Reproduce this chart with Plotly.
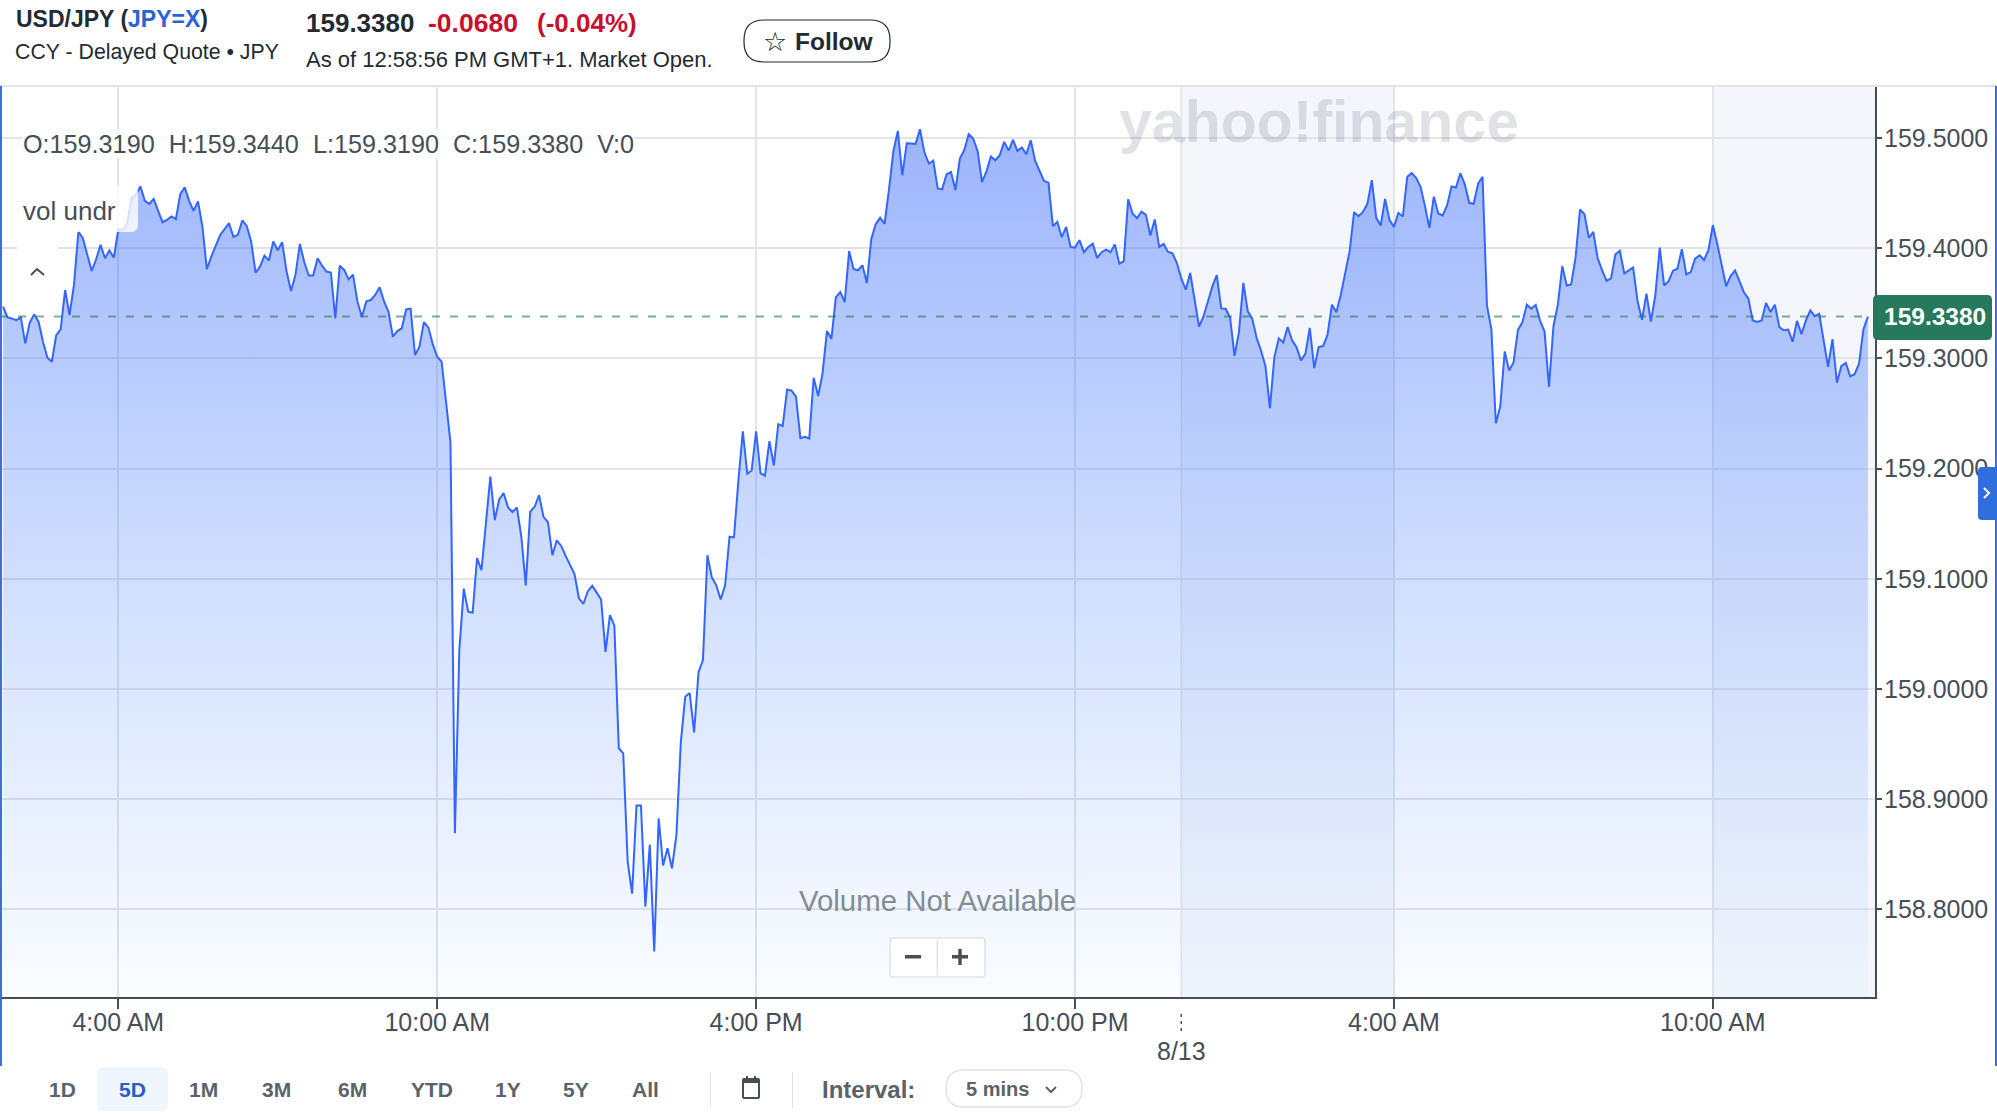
import pandas as pd
import plotly.graph_objects as go

WIDTH = 1997
HEIGHT = 1116

# 5 minute closes, USD/JPY
prices_night = [
    159.3470, 159.3373, 159.3361, 159.3348, 159.3373, 159.3136, 159.3324, 159.3400, 159.3333, 159.3152,
    159.3006, 159.2970, 159.3212, 159.3264, 159.3621, 159.3394, 159.3667, 159.4152, 159.4091, 159.3939,
    159.3794, 159.3900, 159.4030, 159.3909, 159.3979, 159.3915, 159.4167, 159.4167, 159.4221, 159.4455,
    159.4485, 159.4561, 159.4430, 159.4403, 159.4448, 159.4339, 159.4236, 159.4258, 159.4288, 159.4264,
    159.4491, 159.4552, 159.4430, 159.4339, 159.4424, 159.4197, 159.3809, 159.3924, 159.4030, 159.4121,
    159.4173, 159.4227, 159.4103, 159.4121, 159.4252, 159.4203, 159.4061, 159.3779, 159.3833, 159.3933,
    159.3888, 159.4061, 159.3982, 159.4055, 159.3788, 159.3612, 159.3758, 159.4039, 159.3873, 159.3752,
    159.3752, 159.3909, 159.3842, 159.3788, 159.3779, 159.3364, 159.3842, 159.3803, 159.3718, 159.3761,
    159.3515, 159.3379, 159.3518, 159.3530, 159.3576, 159.3645, 159.3518, 159.3424, 159.3197, 159.3248,
    159.3273, 159.3445, 159.3452, 159.3030, 159.3106, 159.3330, 159.3282, 159.3130, 159.3015, 159.2970,
]
prices_selloff = [
    159.2605, 159.2239, 158.8691, 159.0356, 159.0911, 159.0703, 159.0692, 159.1189, 159.1080, 159.1526,
    159.1928, 159.1533, 159.1720, 159.1778, 159.1647, 159.1606, 159.1647, 159.1380, 159.0941, 159.1610,
    159.1654, 159.1760, 159.1563, 159.1515, 159.1215, 159.1350, 159.1299, 159.1208, 159.1124, 159.1043,
    159.0824, 159.0772, 159.0886, 159.0937, 159.0875, 159.0813, 159.0337, 159.0670, 159.0575, 158.9463,
    158.9416, 158.8435, 158.8143, 158.8944, 158.8944, 158.8026, 158.8589, 158.7620, 158.8827, 158.8399,
    158.8556, 158.8373, 158.8673, 158.9514, 158.9931, 158.9964, 158.9606, 159.0154, 159.0264, 159.1215,
    159.1014, 159.0941, 159.0813, 159.0941, 159.1383, 159.1376, 159.1892, 159.2338, 159.1954, 159.1983,
    159.2338, 159.1958, 159.1936, 159.2250, 159.2027, 159.2404, 159.2386, 159.2718, 159.2707, 159.2653,
    159.2276,
]
prices_evening = [
    159.2288, 159.2273, 159.2825, 159.2659, 159.2865, 159.3250, 159.3178, 159.3554, 159.3602, 159.3511,
    159.3973, 159.3812, 159.3800, 159.3845, 159.3684, 159.4085, 159.4219, 159.4276, 159.4222, 159.4534,
    159.4883, 159.5065, 159.4662, 159.4953, 159.4953, 159.4947, 159.5080, 159.4868, 159.4768, 159.4795,
    159.4543, 159.4534, 159.4671, 159.4692, 159.4528, 159.4813, 159.4892, 159.5035, 159.4995, 159.4883,
    159.4601, 159.4698, 159.4832, 159.4798, 159.4844, 159.4965, 159.4886, 159.4983, 159.4883, 159.4914,
    159.4853, 159.4980, 159.4792, 159.4695, 159.4610, 159.4595, 159.4200, 159.4240, 159.4100, 159.4194,
    159.4012, 159.4006, 159.4073, 159.3964, 159.4012, 159.4042, 159.3912, 159.3964, 159.3988, 159.3964,
    159.4033, 159.3860, 159.3882, 159.4443, 159.4313, 159.4273, 159.4331, 159.4303, 159.4115, 159.4261,
    159.4012, 159.4039, 159.3967, 159.3954, 159.3866, 159.3724, 159.3624, 159.3775, 159.3533, 159.3290,
    159.3381, 159.3524, 159.3654, 159.3757, 159.3454, 159.3451, 159.3372, 159.3023,
]
prices_early = [
    159.3236, 159.3685, 159.3427, 159.3361, 159.3185, 159.3070, 159.2927, 159.2548, 159.3012, 159.3182,
    159.3145, 159.3285, 159.3164, 159.3103, 159.2982, 159.3042, 159.3276, 159.2912, 159.3103, 159.3112,
    159.3215, 159.3488, 159.3418, 159.3579, 159.3776, 159.3973, 159.4327, 159.4291, 159.4330, 159.4403,
    159.4618, 159.4276, 159.4206, 159.4448, 159.4255, 159.4194, 159.4321, 159.4288, 159.4648, 159.4682,
    159.4639, 159.4558, 159.4382, 159.4185, 159.4467, 159.4315, 159.4297, 159.4391, 159.4561, 159.4552,
    159.4679, 159.4579, 159.4412, 159.4403, 159.4585, 159.4648, 159.3479, 159.3261, 159.2412, 159.2564,
    159.3064, 159.2891, 159.2964,
]
prices_morning = [
    159.3259, 159.3329, 159.3488, 159.3451, 159.3485, 159.3341, 159.3244, 159.2741, 159.3290, 159.3488,
    159.3838, 159.3662, 159.3671, 159.3915, 159.4351, 159.4308, 159.4095, 159.4149, 159.3909, 159.3799,
    159.3704, 159.3726, 159.3945, 159.3976, 159.3771, 159.3799, 159.3826, 159.3518, 159.3351, 159.3588,
    159.3335, 159.3570, 159.4006, 159.3662, 159.3701, 159.3796, 159.3814, 159.3991, 159.3762, 159.3784,
    159.3905, 159.3936, 159.3893, 159.3982, 159.4210, 159.4037, 159.3854, 159.3655, 159.3747, 159.3799,
    159.3701, 159.3601, 159.3543, 159.3345, 159.3332, 159.3345, 159.3503, 159.3421, 159.3488, 159.3284,
    159.3256, 159.3262, 159.3152, 159.3341, 159.3220, 159.3345, 159.3436, 159.3384, 159.3405, 159.3152,
    159.2924, 159.3174, 159.2780, 159.2930, 159.2960, 159.2838, 159.2857, 159.2954, 159.3265, 159.3380,
]
last_price = 159.3380

y_ticks = [159.5, 159.4, 159.3, 159.2, 159.1, 159.0, 158.9, 158.8]
y_labels = ["159.5000", "159.4000", "159.3000", "159.2000", "159.1000", "159.0000", "158.9000", "158.8000"]
x_ticks = ["2024-08-12 04:00", "2024-08-12 10:00", "2024-08-12 16:00", "2024-08-12 22:00",
           "2024-08-13 04:00", "2024-08-13 10:00"]
x_labels = ["4:00 AM", "10:00 AM", "4:00 PM", "10:00 PM", "4:00 AM", "10:00 AM"]
midnight = "2024-08-13 00:00"
x_start = "2024-08-12 01:46:30"
x_end = "2024-08-13 13:03:00"
ranges = ["1D", "5D", "1M", "3M", "6M", "YTD", "1Y", "5Y", "All"]
range_centres = [63, 132, 203, 276, 352, 432, 508, 576, 645]

prices = prices_night + prices_selloff + prices_evening + prices_early + prices_morning
times = pd.date_range("2024-08-12 01:50", periods=len(prices), freq="5min")

INK = "#464e56"
GRID = "#e2e4ea"
FONT = "Liberation Sans"
PLOT_L, PLOT_R, PLOT_T, PLOT_B = 0, 1875, 86, 997


# pixel helpers, page coordinates to paper coordinates
def px(x):
    return x / WIDTH


def py(y):
    return 1 - y / HEIGHT


def label(x, y, text, size=21, color=INK, bold=False, anchor="left", bg=None, family=FONT):
    if bold:
        text = "<b>" + text + "</b>"
    fig.add_annotation(xref="paper", yref="paper", x=px(x), y=py(y), text=text, showarrow=False,
                       xanchor=anchor, yanchor="middle", borderpad=0, bgcolor=bg,
                       font=dict(family=family, size=size, color=color))


def box(x0, y0, x1, y1, fill=None, line=None, width=1, layer="above"):
    fig.add_shape(type="rect", xref="paper", yref="paper", x0=px(x0), x1=px(x1), y0=py(y0), y1=py(y1),
                  fillcolor=fill, line=dict(color=line, width=width if line else 0), layer=layer)


def rounded(x0, y0, x1, y1, r, fill=None, line=None, width=1):
    a, b, c, d = px(x0), px(x1), py(y0), py(y1)
    rx, ry = r / WIDTH, r / HEIGHT
    path = (f"M {a + rx} {c} L {b - rx} {c} Q {b} {c} {b} {c - ry} L {b} {d + ry} Q {b} {d} {b - rx} {d} "
            f"L {a + rx} {d} Q {a} {d} {a} {d + ry} L {a} {c - ry} Q {a} {c} {a + rx} {c} Z")
    fig.add_shape(type="path", xref="paper", yref="paper", path=path, fillcolor=fill,
                  line=dict(color=line, width=width if line else 0), layer="above")


def stroke(points, color=INK, width=2):
    path = "M " + " L ".join(f"{px(x)} {py(y)}" for x, y in points)
    fig.add_shape(type="path", xref="paper", yref="paper", path=path,
                  line=dict(color=color, width=width), layer="above")


fig = go.Figure()
fig.add_trace(go.Scatter(
    x=times, y=prices, mode="lines", hoverinfo="skip",
    line=dict(color="#3366ff", width=2),
    fill="tozeroy",
    fillgradient=dict(type="vertical", start=159.51, stop=158.72,
                      colorscale=[[0, "rgba(56,104,250,0.50)"], [1, "rgba(90,150,255,0.03)"]]),
))

fig.update_layout(
    width=WIDTH, height=HEIGHT, margin=dict(l=0, r=0, t=0, b=0), showlegend=False,
    paper_bgcolor="white", plot_bgcolor="white",
    font=dict(family=FONT, color=INK),
    xaxis=dict(domain=[px(PLOT_L), px(PLOT_R)], range=[x_start, x_end], type="date",
               tickmode="array", tickvals=x_ticks, ticktext=x_labels, tickangle=0,
               ticks="outside", ticklen=10, tickcolor=INK, tickwidth=1.5, ticklabelstandoff=-8,
               tickfont=dict(size=25, color=INK), showgrid=True, gridcolor=GRID, gridwidth=1.5,
               showline=True, linecolor=INK, linewidth=2, zeroline=False),
    yaxis=dict(domain=[py(PLOT_B), py(PLOT_T)], range=[158.7206, 159.5472], side="right",
               tickmode="array", tickvals=y_ticks, ticktext=y_labels,
               ticks="outside", ticklen=5, tickcolor=INK, tickwidth=1.5, ticklabelstandoff=-3,
               tickfont=dict(size=25, color=INK), showgrid=True, gridcolor=GRID, gridwidth=1.5,
               showline=True, linecolor=INK, linewidth=2, zeroline=False),
)

# off hours bands and the midnight grid line
fig.add_shape(type="rect", xref="x", yref="paper", x0=midnight, x1=x_ticks[4], y0=py(PLOT_B), y1=py(PLOT_T),
              fillcolor="#f4f6fb", line_width=0, layer="below")
fig.add_shape(type="rect", xref="x", yref="paper", x0=x_ticks[5], x1=x_end, y0=py(PLOT_B), y1=py(PLOT_T),
              fillcolor="#f4f6fb", line_width=0, layer="below")
fig.add_shape(type="line", xref="x", yref="paper", x0=midnight, x1=midnight, y0=py(PLOT_B), y1=py(PLOT_T),
              line=dict(color=GRID, width=1.5), layer="between")

# last price line and badge
fig.add_shape(type="line", xref="paper", yref="y", x0=0, x1=px(1872), y0=last_price, y1=last_price,
              line=dict(color="rgba(38,120,90,0.6)", width=2, dash="8px,10px"), layer="above")
rounded(1873, 295, 1992, 340, 5, fill="#27795d")
label(1935, 316, "159.3380", size=24.5, color="white", bold=True, anchor="center")

# page edges
box(0, 85, WIDTH, 87, fill="#e2e4ea")
box(0, 86, 2, 1066, fill="#3b6fe0")
box(1995, 86, 1997, 1066, fill="#3b6fe0")
rounded(1978, 467, 2005, 520, 4, fill="#2f6fdc")
stroke([(1984, 488), (1989, 493), (1984, 498)], color="white", width=2)

# header
label(15, 19, 'USD/JPY (<span style="color:#2a63d8">JPY=X</span>)', size=23, color="#232a31", bold=True)
label(14, 52, "CCY - Delayed Quote • JPY", size=21.3, color="#232a31")
label(305, 23, "159.3380", size=26, color="#232a31", bold=True)
label(427, 23, "-0.0680", size=26.5, color="#c8102e", bold=True)
label(536, 23, "(-0.04%)", size=26, color="#c8102e", bold=True)
label(305, 59, "As of 12:58:56 PM GMT+1. Market Open.", size=22, color="#232a31")
rounded(744, 20, 890, 62, 20, fill="white", line="#232a31", width=1.2)
label(762, 41, "☆", size=27, color="#232a31", family="DejaVu Sans")
label(794, 41, "Follow", size=24.5, color="#232a31", bold=True)

# chart overlays
label(22, 144, "O:159.3190  H:159.3440  L:159.3190  C:159.3380  V:0", size=25.2, bg="rgba(255,255,255,0.8)")
rounded(15, 186, 138, 232, 7, fill="rgba(255,255,255,0.8)")
label(22, 211, "vol undr", size=26)
box(17, 246, 58, 285, fill="white")
stroke([(31, 275), (37, 269), (44, 275)], width=2)
label(1118, 122, "yahoo!finance", size=59, color="rgba(70,85,105,0.17)", bold=True)
label(937, 900, "Volume Not Available", size=29.4, color="#858c94", anchor="center")
rounded(890, 938, 985, 977, 3, fill="white", line="#e0e3e8", width=1.5)
box(936.5, 940, 938, 975, fill="#e0e3e8")
box(905, 955, 921, 958.5, fill=INK)
box(952, 955, 968, 958.5, fill=INK)
box(958.3, 949, 961.7, 965, fill=INK)

# second row date label under the axis
for tick_y in (1014, 1021, 1028):
    box(1180.5, tick_y, 1182, tick_y + 3, fill=INK)
label(1181, 1051, "8/13", size=25, anchor="center")

# range selector row
rounded(97, 1067, 168, 1111, 7, fill="#f0f6fe")
for name, centre in zip(ranges, range_centres):
    if name == "5D":
        label(centre, 1089, name, size=21, color="#2a5bd0", bold=True, anchor="center")
    else:
        label(centre, 1089, name, size=21, color="#5b636a", bold=True, anchor="center")
box(710, 1072, 711, 1108, fill="#e2e4ea")
box(792, 1072, 793, 1108, fill="#e2e4ea")
rounded(743, 1079, 759, 1098, 1, fill="white", line=INK, width=2)
box(743, 1079, 759, 1083, fill=INK)
box(746, 1076, 748, 1080, fill=INK)
box(754, 1076, 756, 1080, fill=INK)
label(821, 1089, "Interval:", size=24, color="#5b636a", bold=True)
rounded(946, 1070, 1082, 1107, 18, fill="white", line="#e0e3e8", width=1.5)
label(965, 1089, "5 mins", size=20, color="#5b636a", bold=True)
stroke([(1046, 1087), (1051, 1092), (1056, 1087)], color="#5b636a", width=2)

fig.write_html("out.html", config=dict(displayModeBar=False),
               post_script="document.body.style.margin='0';")
